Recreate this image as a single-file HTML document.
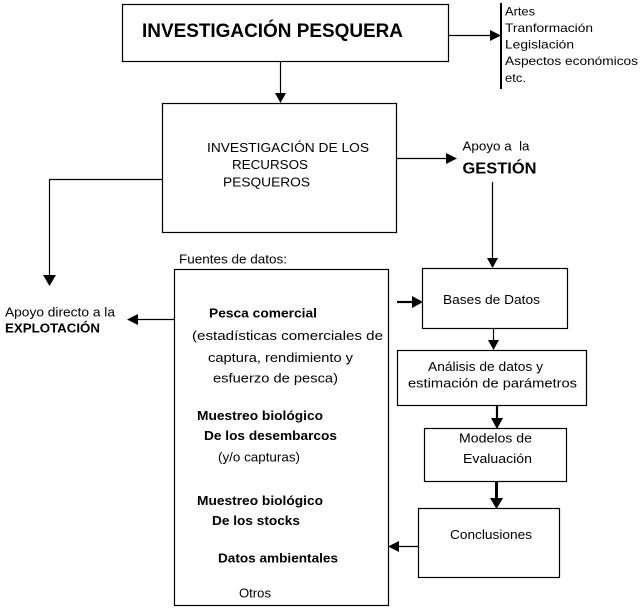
<!DOCTYPE html>
<html><head><meta charset="utf-8"><style>
html,body{margin:0;padding:0;background:#fff;}
svg{display:block;}
text{font-family:"Liberation Sans",Arial,sans-serif;fill:#000;}
.b{font-weight:bold;}
</style></head><body>
<svg width="640" height="610" viewBox="0 0 640 610" xmlns="http://www.w3.org/2000/svg">
<g fill="none" stroke="#000" stroke-width="1.2">
<rect x="122.5" y="4.5" width="326" height="57"/>
<rect x="162.5" y="103.5" width="234" height="129"/>
<rect x="174.5" y="269.5" width="214" height="336"/>
<rect x="422.5" y="268.5" width="145" height="60"/>
<rect x="397.5" y="350.5" width="189" height="55"/>
<rect x="424.5" y="428.5" width="142" height="53"/>
<rect x="418.5" y="508.5" width="141" height="69"/>
<!-- connectors -->
<line x1="280.5" y1="61" x2="280.5" y2="94"/>
<line x1="448" y1="35.5" x2="491" y2="35.5"/>
<line x1="396" y1="158.5" x2="447" y2="158.5"/>
<polyline points="162,179.5 49.5,179.5 49.5,276"/>
<line x1="492.5" y1="182" x2="492.5" y2="259"/>
<line x1="174" y1="319.5" x2="137" y2="319.5"/>
<line x1="493.5" y1="328" x2="493.5" y2="341"/>
<line x1="418" y1="546.5" x2="398" y2="546.5"/>
</g>
<g stroke="#000" stroke-width="2.2" fill="none">
<line x1="397" y1="302" x2="413" y2="302"/>
<line x1="497" y1="405" x2="497" y2="419"/>
</g>
<line x1="496.5" y1="481" x2="496.5" y2="499" stroke="#000" stroke-width="3"/>
<rect x="500" y="3" width="2" height="86" fill="#000"/>
<g fill="#000">
<polygon points="275,93 286,93 280.5,103"/>
<polygon points="490,30 490,41 501,35.5"/>
<polygon points="446,153 446,164 457,158.5"/>
<polygon points="43,275 56,275 49.5,286"/>
<polygon points="487,258 498,258 492.5,268"/>
<polygon points="138,314 138,325 127,319.5"/>
<polygon points="412,296 412,308 423,302"/>
<polygon points="488,340 499,340 493.5,350"/>
<polygon points="491,418 503,418 497,429"/>
<polygon points="490,498 503,498 496.5,509"/>
<polygon points="399,541 399,552 388,546.5"/>
</g>
<!-- texts -->
<text class="b" x="142" y="37" font-size="19" textLength="261" lengthAdjust="spacingAndGlyphs">INVESTIGACIÓN PESQUERA</text>
<g font-size="12">
<text x="505" y="15.5" textLength="30" lengthAdjust="spacingAndGlyphs">Artes</text>
<text x="505" y="32" textLength="88" lengthAdjust="spacingAndGlyphs">Tranformación</text>
<text x="505" y="48.5" textLength="69" lengthAdjust="spacingAndGlyphs">Legislación</text>
<text x="505" y="65" textLength="133" lengthAdjust="spacingAndGlyphs">Aspectos económicos</text>
<text x="505" y="82" textLength="21" lengthAdjust="spacingAndGlyphs">etc.</text>
</g>
<g font-size="13">
<text x="207" y="152" textLength="162" lengthAdjust="spacingAndGlyphs">INVESTIGACIÓN DE LOS</text>
<text x="232" y="169" textLength="76" lengthAdjust="spacingAndGlyphs">RECURSOS</text>
<text x="223" y="186.5" textLength="87" lengthAdjust="spacingAndGlyphs">PESQUEROS</text>
<text x="462.5" y="150.5" textLength="67" lengthAdjust="spacingAndGlyphs" xml:space="preserve">Apoyo a  la</text>
<text x="179" y="263.5" textLength="108" lengthAdjust="spacingAndGlyphs">Fuentes de datos:</text>
<text x="5" y="316.5" textLength="110" lengthAdjust="spacingAndGlyphs">Apoyo directo a la</text>
<text x="192" y="340" textLength="191" lengthAdjust="spacingAndGlyphs">(estadísticas comerciales de</text>
<text x="208" y="362" textLength="145" lengthAdjust="spacingAndGlyphs">captura, rendimiento y</text>
<text x="213" y="382.5" textLength="125" lengthAdjust="spacingAndGlyphs">esfuerzo de pesca)</text>
<text x="218" y="461.5" textLength="82" lengthAdjust="spacingAndGlyphs">(y/o capturas)</text>
<text x="239" y="597.5" textLength="32" lengthAdjust="spacingAndGlyphs">Otros</text>
<text x="443" y="304" textLength="97" lengthAdjust="spacingAndGlyphs">Bases de Datos</text>
<text x="428" y="371" textLength="115" lengthAdjust="spacingAndGlyphs">Análisis de datos y</text>
<text x="408" y="387.5" textLength="169" lengthAdjust="spacingAndGlyphs">estimación de parámetros</text>
<text x="459" y="442.5" textLength="73" lengthAdjust="spacingAndGlyphs">Modelos de</text>
<text x="463" y="463" textLength="69" lengthAdjust="spacingAndGlyphs">Evaluación</text>
<text x="450" y="539" textLength="82" lengthAdjust="spacingAndGlyphs">Conclusiones</text>
</g>
<text class="b" x="462.5" y="173.5" font-size="16" textLength="74" lengthAdjust="spacingAndGlyphs">GESTIÓN</text>
<g class="b" font-size="13">
<text x="5" y="332.5" textLength="95" lengthAdjust="spacingAndGlyphs">EXPLOTACIÓN</text>
<text x="209" y="317.5" textLength="108" lengthAdjust="spacingAndGlyphs">Pesca comercial</text>
<text x="197" y="420" textLength="126" lengthAdjust="spacingAndGlyphs">Muestreo biológico</text>
<text x="204" y="440" textLength="133" lengthAdjust="spacingAndGlyphs">De los desembarcos</text>
<text x="197" y="505" textLength="126" lengthAdjust="spacingAndGlyphs">Muestreo biológico</text>
<text x="212" y="525" textLength="88" lengthAdjust="spacingAndGlyphs">De los stocks</text>
<text x="218" y="562.5" textLength="120" lengthAdjust="spacingAndGlyphs">Datos ambientales</text>
</g>
</svg>
</body></html>
